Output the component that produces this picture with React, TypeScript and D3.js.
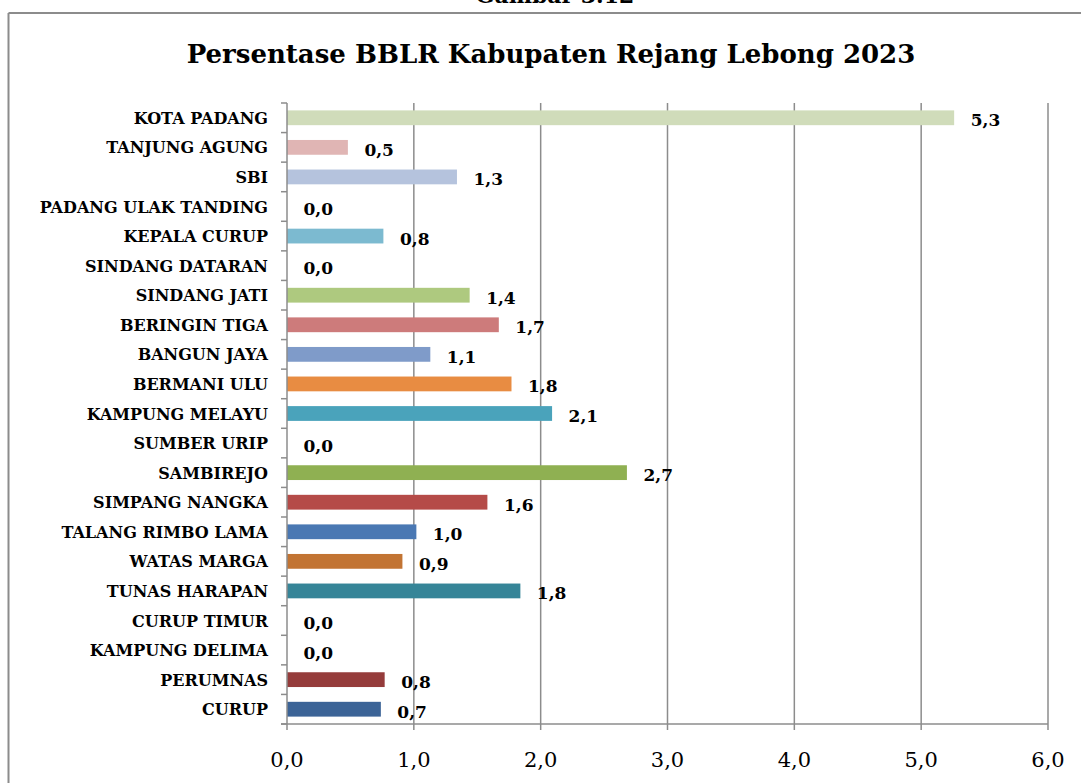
import React from "react";
import * as d3 from "d3";

const categories = [
  "KOTA PADANG", "TANJUNG AGUNG", "SBI", "PADANG ULAK TANDING", "KEPALA CURUP",
  "SINDANG DATARAN", "SINDANG JATI", "BERINGIN TIGA", "BANGUN JAYA", "BERMANI ULU",
  "KAMPUNG MELAYU", "SUMBER URIP", "SAMBIREJO", "SIMPANG NANGKA", "TALANG RIMBO LAMA",
  "WATAS MARGA", "TUNAS HARAPAN", "CURUP TIMUR", "KAMPUNG DELIMA", "PERUMNAS", "CURUP",
];
const values = [
  5.26, 0.48, 1.34, 0, 0.76,
  0, 1.44, 1.67, 1.13, 1.77,
  2.09, 0, 2.68, 1.58, 1.02,
  0.91, 1.84, 0, 0, 0.77, 0.74,
];
const colors = [
  "#d0dcba", "#e0b5b4", "#b5c3dd", "#c8c8c8", "#7cbad0",
  "#c8c8c8", "#aec97f", "#cd7b7b", "#7f9bc9", "#e88c42",
  "#4aa3bb", "#c8c8c8", "#8fb052", "#b54b48", "#4a78b3",
  "#c27433", "#368598", "#c8c8c8", "#c8c8c8", "#953c3b", "#3c6497",
];
const xTicks = [0, 1, 2, 3, 4, 5, 6];
const title = "Persentase BBLR Kabupaten Rejang Lebong 2023";
const caption = "Gambar 3.12";

const W = 1081;
const H = 783;
const left = 287;
const right = 1048;
const top = 103;
const bottom = 724;
const grid = "#8c8c8c";
const serif = "'DejaVu Serif', serif";

export default function App() {
  const x = d3.scaleLinear().domain([0, 6]).range([left, right]);
  const y = d3.scaleBand<string>().domain(categories).range([top, bottom]).paddingInner(0.5).paddingOuter(0.25);
  const step = y.step();
  const fmt = (v: number) => d3.format(".1f")(v).replace(".", ",");
  const boundaries = d3.range(categories.length + 1).map((i) => top + i * step);

  return (
    <svg width={W} height={H} style={{ position: "absolute", left: 0, top: 0, background: "#fff" }}>
      <rect x={0} y={0} width={W} height={H} fill="#fff" />
      <text x={555} y={3} textAnchor="middle" fontFamily={serif} fontWeight="bold" fontSize={22} fill="#000">
        {caption}
      </text>
      <line x1={8.5} y1={13} x2={W} y2={13} stroke={grid} strokeWidth={2} />
      <line x1={8.5} y1={13} x2={8.5} y2={H} stroke={grid} strokeWidth={2} />
      <text x={551} y={63} textAnchor="middle" fontFamily={serif} fontWeight="bold" fontSize={26} fill="#000">
        {title}
      </text>
      {xTicks.filter((t) => t > 0).map((t) => (
        <line key={"g" + t} x1={x(t)} x2={x(t)} y1={top} y2={bottom} stroke={grid} strokeWidth={1.5} />
      ))}
      {categories.map((c, i) => (
        <rect key={"b" + c} x={x(0)} y={y(c)!} width={x(values[i]) - x(0)} height={y.bandwidth()} fill={colors[i]} />
      ))}
      <line x1={left} x2={left} y1={top} y2={bottom} stroke={grid} strokeWidth={1.5} />
      {boundaries.map((b, i) => (
        <line key={"yt" + i} x1={left - 6} x2={left} y1={b} y2={b} stroke={grid} strokeWidth={1.5} />
      ))}
      <line x1={left - 6} x2={right} y1={bottom} y2={bottom} stroke={grid} strokeWidth={1.5} />
      {xTicks.map((t) => (
        <g key={"xt" + t}>
          <line x1={x(t)} x2={x(t)} y1={bottom} y2={bottom + 6} stroke={grid} strokeWidth={1.5} />
          <text x={x(t)} y={767} textAnchor="middle" fontFamily={serif} fontSize={21} fill="#000">
            {fmt(t)}
          </text>
        </g>
      ))}
      {categories.map((c, i) => (
        <text key={"l" + c} x={268} y={y(c)! + y.bandwidth() / 2 + 6} textAnchor="end" fontFamily={serif} fontWeight="bold" fontSize={16} fill="#000">
          {c}
        </text>
      ))}
      {categories.map((c, i) => (
        <text key={"v" + c} x={x(values[i]) + 16.5} y={y(c)! + y.bandwidth() / 2 + 8.5} textAnchor="start" fontFamily={serif} fontWeight="bold" fontSize={17} fill="#000">
          {fmt(values[i])}
        </text>
      ))}
    </svg>
  );
}
